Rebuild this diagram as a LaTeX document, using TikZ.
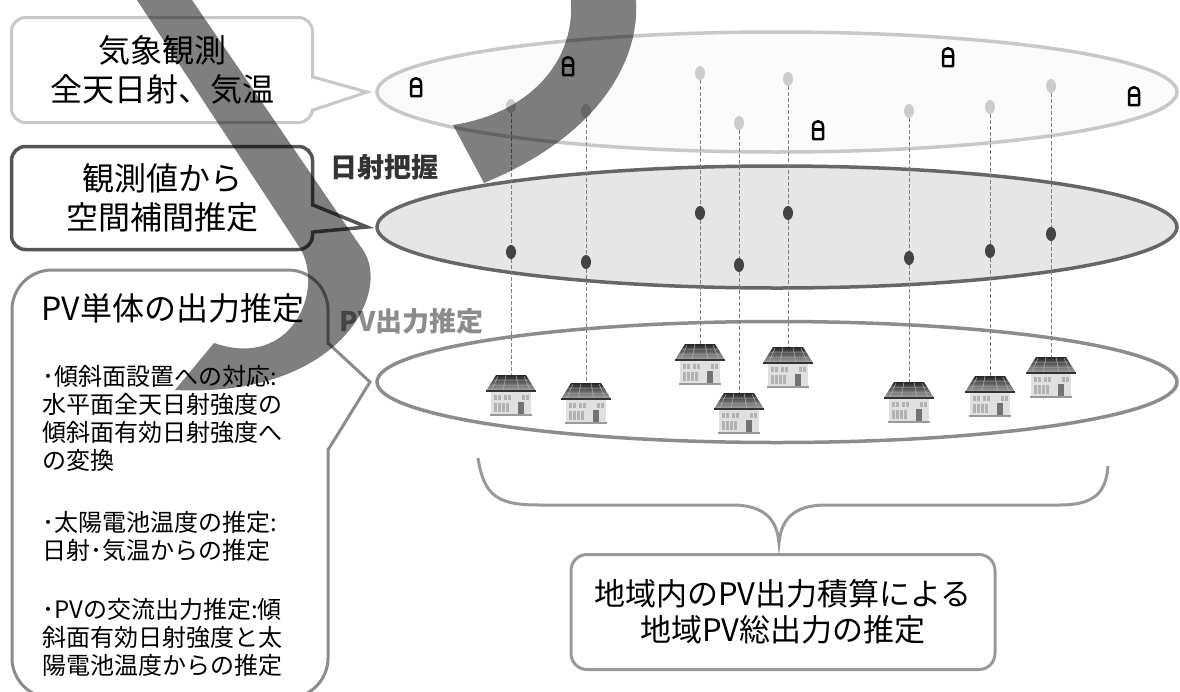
\documentclass[tikz,border=0pt]{standalone}
\usepackage{fontspec}
\setmainfont{Noto Sans CJK JP}
\usetikzlibrary{shapes.geometric}
\usepackage{xcolor}
\definecolor{skyline}{HTML}{C8C8C8}
\definecolor{skyfill}{HTML}{FBFBFB}
\definecolor{irrline}{HTML}{666666}
\definecolor{irrfill}{HTML}{E6E6E6}
\definecolor{pvline}{HTML}{8C8C8C}
\definecolor{darkline}{HTML}{555555}
\definecolor{totalline}{HTML}{999999}
\definecolor{dotlight}{HTML}{CCCCCC}
\definecolor{dotdark}{HTML}{444444}
\tikzstyle{layer}=[
        ellipse,
        line width = 3.5pt,
        inner sep = 0pt,
        minimum width = 800pt,
        minimum height = 120pt
    ]
\tikzstyle{callout}=[
        draw,
        fill = white,
        line width = 3pt,
        rounded corners = 14pt,
        align = center,
        inner sep = 0pt
    ]
\tikzstyle{light dot}=[
    ellipse,
    fill = dotlight,
    inner sep = 0pt,
    minimum width = 10pt,
    minimum height = 14pt
]
\tikzstyle{dark dot}=[
    ellipse,
    fill = dotdark,
    inner sep = 0pt,
    minimum width = 10pt,
    minimum height = 14pt
]
\tikzstyle{drop}=[
    draw = gray,
    line width = 1pt,
    dash pattern = on 4pt off 2pt
]
\tikzset{
    pvhouse/.pic={
        \shade[top color=black!85, bottom color=black!35] (-15,0) -- (15,0) -- (25,16) -- (-25,16) -- cycle;
        \draw[white!70!black, line width=0.5pt] (-18,5) -- (18,5) (-21,10) -- (21,10)
            (-5,0) -- (-8,16) (5,0) -- (8,16) (-13,1) -- (-19,15) (13,1) -- (19,15);
        \fill[black!12] (-20,17) rectangle (20,39);
        \draw[black!80, line width=2.5pt] (-25,16) -- (25,16);
        \fill[black!40] (-21,39) rectangle (21,41);
        \foreach \wx in {-17,-13,-7,-3,11,15}
            \fill[black!30] (\wx,20) rectangle ++(3,5);
        \foreach \wx in {-17,-13,-9,-5}
            \fill[black!30] (\wx,28) rectangle ++(3,9);
        \fill[black!55] (7,27) rectangle (13,39);
    },
    station/.pic={
        \draw[line width=2.5pt, line join=round] (-5,9) -- (-5,-3.5)
            .. controls (-5,-10.5) and (5,-10.5) .. (5,-3.5) -- (5,9) -- cycle;
        \draw[line width=2.5pt] (-5,-0.5) -- (5,-0.5);
    }
}

\begin{document}
\begin{tikzpicture}[x=1pt, y=-1pt]
    \useasboundingbox (0,0) rectangle (1180,691);

    \node[layer, draw = skyline, fill = skyfill] (sky) at (777,92) {};
    \node[layer, draw = irrline, fill = irrfill, minimum height = 122pt] (irr) at (777,227) {};
    \node[layer, draw = pvline, minimum height = 121pt] (pv) at (777,382) {};

    \foreach \i/\x/\ya/\yb/\yh in {1/511/106/252/375, 2/586/111/262/383, 3/700/73/213/344,
            4/739/123/265/393, 5/788/79/213/347, 6/909/111/258/382, 7/990/107/251/376, 8/1051/86/234/357}{
        \node[light dot] (t\i) at (\x,\ya) {};
        \node[dark dot] (m\i) at (\x,\yb) {};
        \coordinate (h\i) at (\x,\yh);
        \draw[drop] (t\i) -- (m\i);
        \draw[drop] (m\i) -- (h\i);
        \pic at (h\i) {pvhouse};
    }

    \foreach \x/\y in {416/87, 568/66, 948/57, 1134/96, 818/130}
        \pic at (\x,\y) {station};

    \node[callout, draw = skyline, minimum width = 301pt, minimum height = 105pt,
        font = \fontsize{32}{39}\selectfont] (obs) at (162,70) {気象観測\\全天日射、気温};
    \fill[white] (309,78.5) -- (313,78.5) -- (367,92) -- (313,108.5) -- (309,108.5) -- cycle;
    \draw[skyline, line width = 3pt] (313,77) -- (367,92) -- (313,110);

    \node[callout, draw = darkline, line width = 3.5pt, minimum width = 301pt, minimum height = 103pt,
        font = \fontsize{32}{39}\selectfont] (interp) at (162,198) {観測値から\\空間補間推定};
    \fill[white] (309,206.5) -- (313,206.5) -- (367,227) -- (313,230.5) -- (309,230.5) -- cycle;
    \draw[darkline, line width = 3.5pt] (313,205) -- (367,227) -- (313,232);

    \node[callout, draw = pvline, rounded corners = 40pt, minimum width = 316pt,
        minimum height = 428pt] (pvunit) at (170,484) {};
    \fill[white] (324,344.5) -- (328,344.5) -- (370,382) -- (328,448.5) -- (324,448.5) -- cycle;
    \draw[pvline, line width = 3pt] (328,343) -- (370,382) -- (328,450);

    \node[anchor = west, font = \fontsize{32}{36}\selectfont] (pvhead) at (38,308) {PV単体の出力推定};
    \node[anchor = north west, align = left, inner sep = 0pt, font = \fontsize{24}{28}\selectfont]
        (tilt) at (42,365) {･傾斜面設置への対応:\\水平面全天日射強度の\\傾斜面有効日射強度へ\\の変換};
    \node[anchor = north west, align = left, inner sep = 0pt, font = \fontsize{24}{28}\selectfont]
        (cell) at (42,511) {･太陽電池温度の推定:\\日射･気温からの推定};
    \node[anchor = north west, align = left, inner sep = 0pt, font = \fontsize{24}{28}\selectfont]
        (acout) at (42,598) {･PVの交流出力推定:傾\\斜面有効日射強度と太\\陽電池温度からの推定};

    \node[anchor = west, text = black!80, font = \fontsize{27}{30}\selectfont\bfseries] (irrlabel) at (327,167) {日射把握};
    \node[anchor = west, text = pvline, font = \fontsize{27}{30}\selectfont\bfseries] (pvlabel) at (336,321) {PV出力推定};

    \draw[totalline, line width = 3pt] (478,458) .. controls (484,498) and (500,505) .. (540,505)
        -- (732,505) .. controls (765,505) and (777,520) .. (779,543)
        .. controls (781,520) and (793,505) .. (826,505)
        -- (1060,505) .. controls (1095,505) and (1106,492) .. (1108,466);

    \node[callout, draw = totalline, rounded corners = 16pt, minimum width = 424pt, minimum height = 115pt,
        font = \fontsize{31}{36}\selectfont] (total) at (783,612) {地域内のPV出力積算による\\地域PV総出力の推定};

    \fill[black, fill opacity = 0.5] (137,0) -- (300,248)
        .. controls (325,290) and (292,370) .. (214,343) -- (175,390)
        .. controls (340,398) and (392,292) .. (363,250) -- (192,0) -- cycle;
    \fill[black, fill opacity = 0.5] (571,0) .. controls (575,70) and (520,115) .. (453,125)
        -- (484,183) .. controls (600,135) and (640,60) .. (636,0) -- cycle;
\end{tikzpicture}
\end{document}
